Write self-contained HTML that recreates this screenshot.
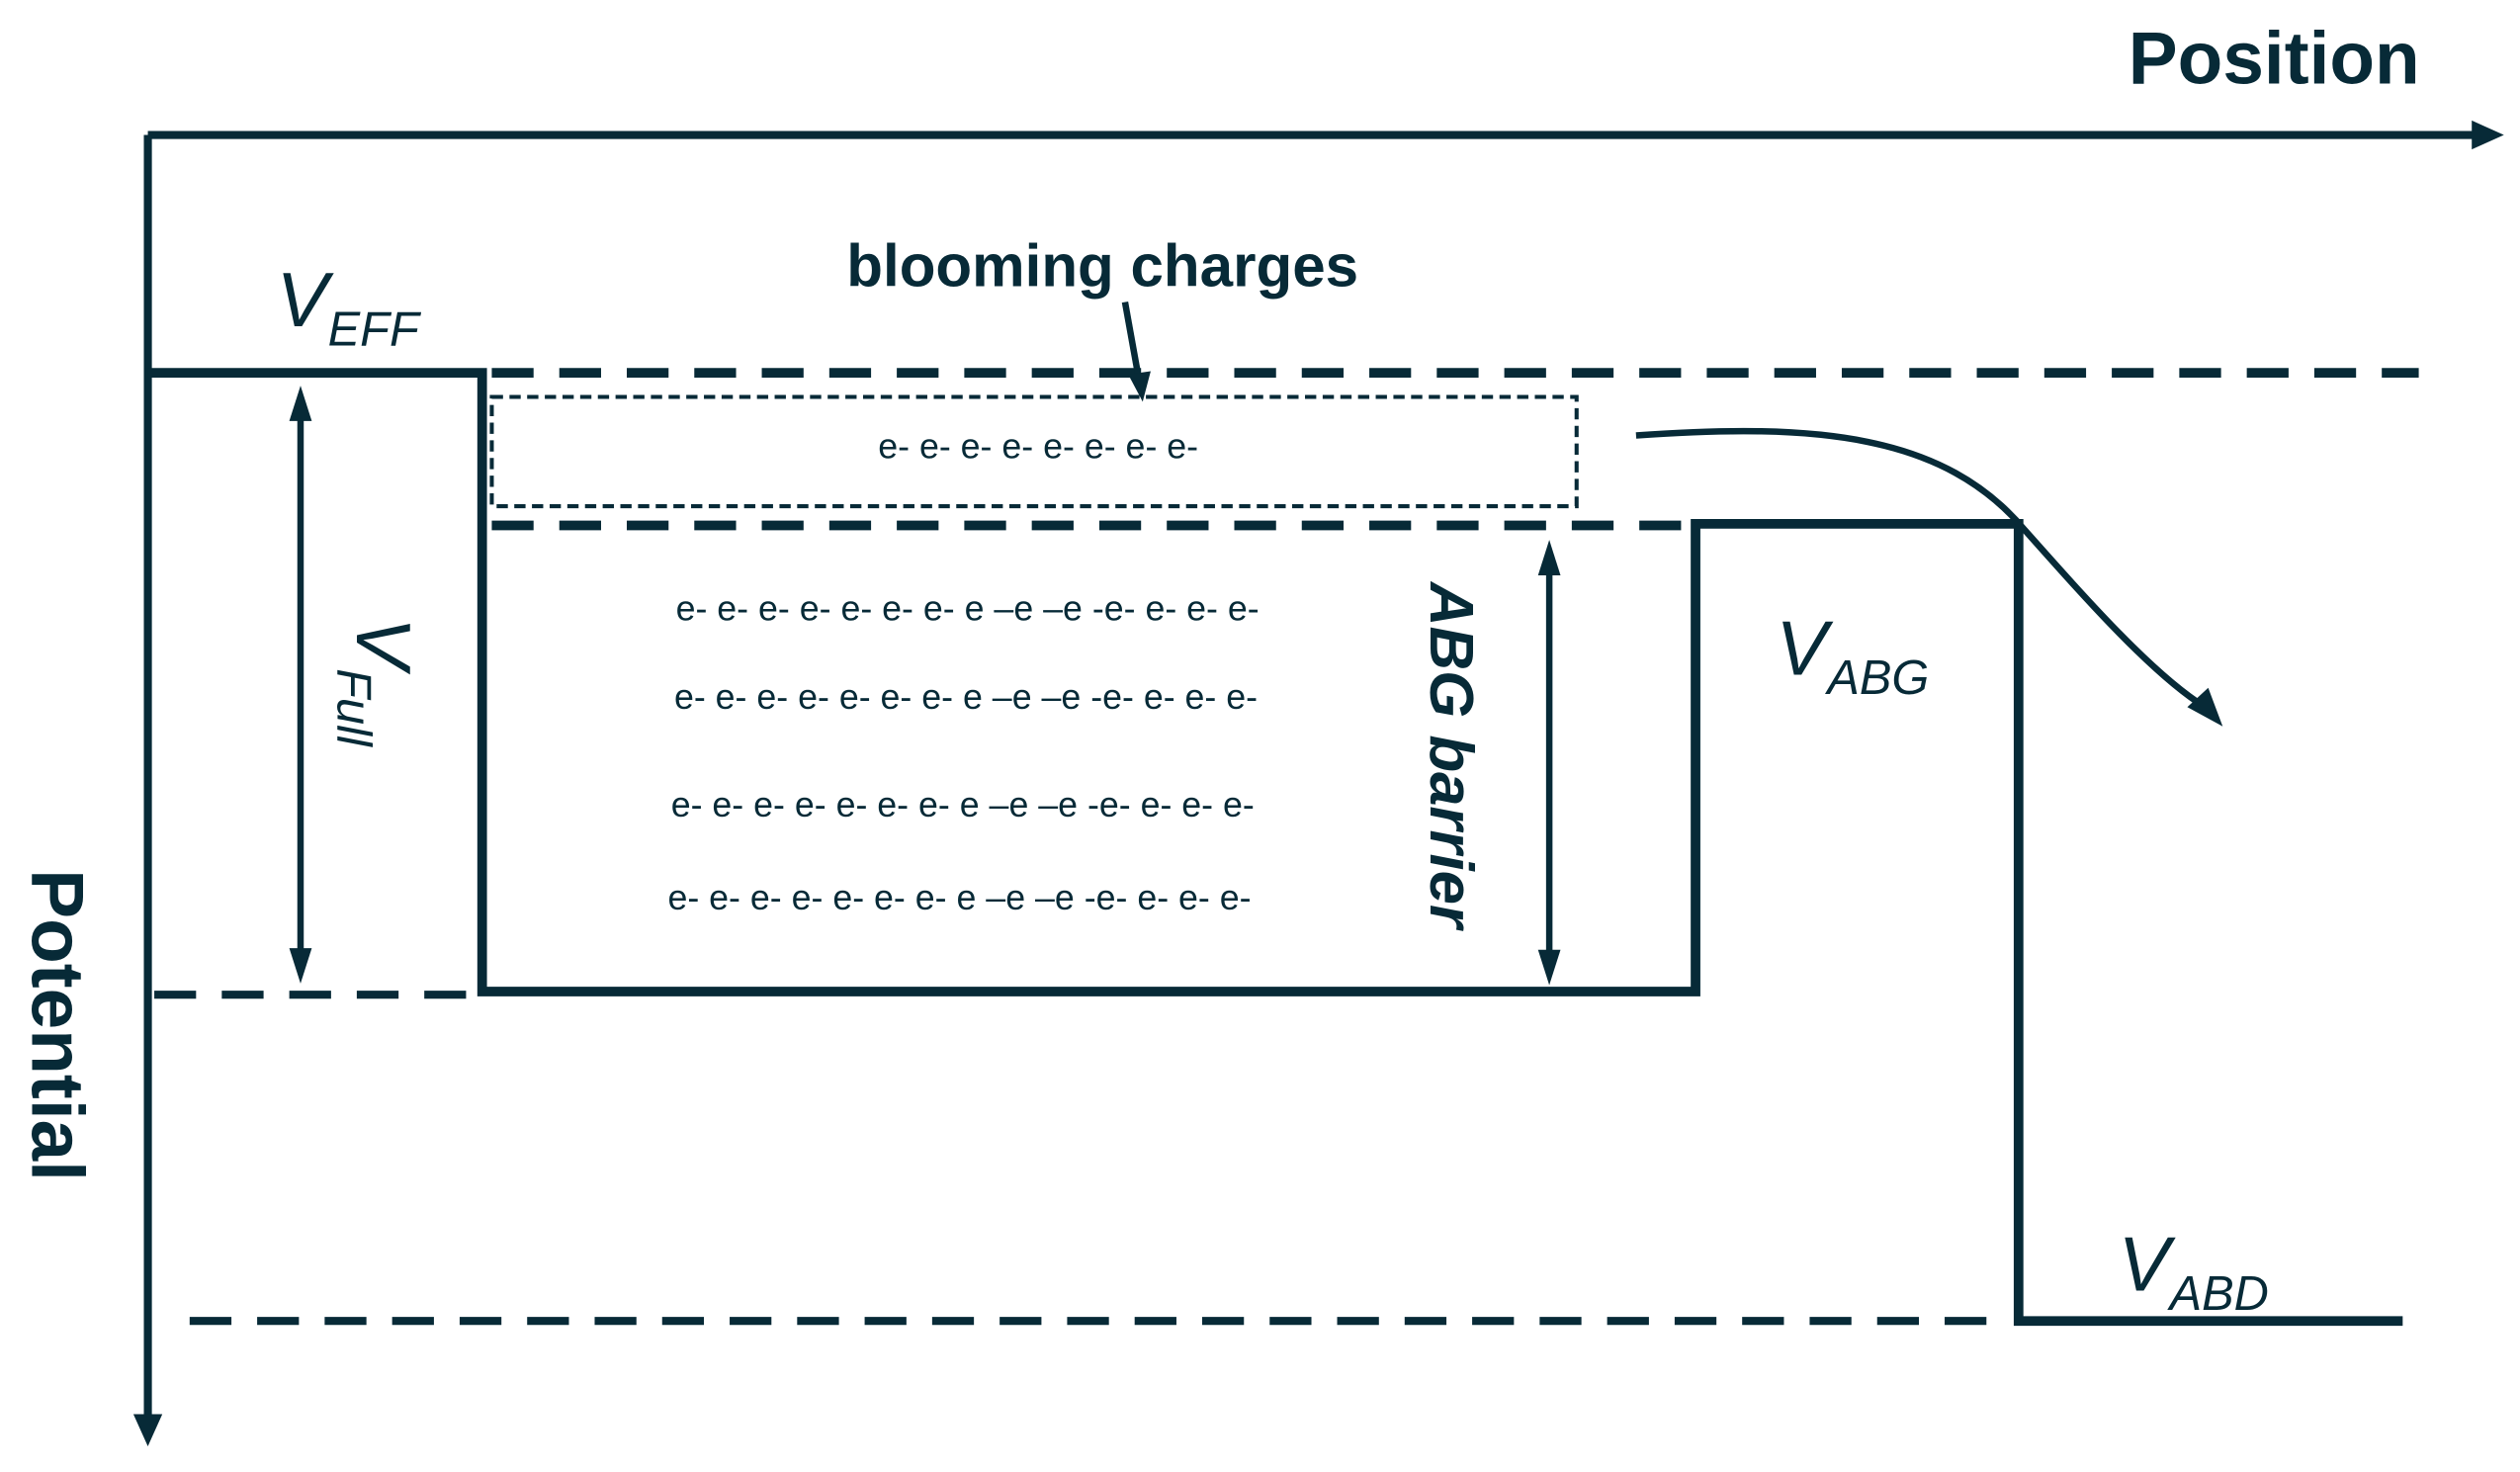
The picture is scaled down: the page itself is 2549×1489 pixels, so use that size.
<!DOCTYPE html>
<html><head><meta charset="utf-8"><style>
html,body{margin:0;padding:0;background:#fff;}
svg{display:block;}
text{font-family:"Liberation Sans",sans-serif;fill:#072a37;}
</style></head><body>
<svg width="2549" height="1489" viewBox="0 0 1568 916" preserveAspectRatio="none">
<g stroke="#072a37" fill="none" stroke-linecap="butt">
<!-- axes -->
<line x1="92" y1="84" x2="1545" y2="84" stroke-width="5"/>
<polygon points="1558,84 1538,75 1538,93" fill="#072a37" stroke="none"/>
<line x1="92" y1="84" x2="92" y2="885" stroke-width="5"/>
<polygon points="92,900 83,880 101,880" fill="#072a37" stroke="none"/>
<!-- potential profile -->
<polyline points="92,232 300,232 300,617 1055,617 1055,326 1256,326 1256,822 1495,822" stroke-width="6"/>
<!-- dashed levels -->
<line x1="306" y1="232" x2="1505" y2="232" stroke-width="6" stroke-dasharray="26,16"/>
<line x1="306" y1="327" x2="1050" y2="327" stroke-width="6" stroke-dasharray="26,16"/>
<line x1="96" y1="619" x2="300" y2="619" stroke-width="5" stroke-dasharray="26,16"/>
<line x1="118" y1="822" x2="1250" y2="822" stroke-width="5" stroke-dasharray="26,16"/>
<!-- dotted box -->
<rect x="306" y="247" width="675" height="68" stroke-width="2.5" stroke-dasharray="7,4"/>
<!-- blooming arrow -->
<line x1="700" y1="188" x2="709" y2="238" stroke-width="4"/>
<polygon points="711,250 702,233 716,231" fill="#072a37" stroke="none"/>
<!-- VFull double arrow -->
<line x1="187" y1="252" x2="187" y2="600" stroke-width="4"/>
<polygon points="187,240 180,262 194,262" fill="#072a37" stroke="none"/>
<polygon points="187,612 180,590 194,590" fill="#072a37" stroke="none"/>
<!-- ABG barrier double arrow -->
<line x1="964" y1="348" x2="964" y2="600" stroke-width="4"/>
<polygon points="964,336 957,358 971,358" fill="#072a37" stroke="none"/>
<polygon points="964,613 957,591 971,591" fill="#072a37" stroke="none"/>
<!-- curve -->
<path d="M1018,271 C1130,263 1210,270 1260,330 C1300,375 1340,420 1372,440" stroke-width="4"/>
<polygon points="1383,452 1361,440 1374,428" fill="#072a37" stroke="none"/>
</g>
<text x="1415" y="52" font-size="46" font-weight="bold" text-anchor="middle">Position</text>
<text x="686" y="178" font-size="37" font-weight="bold" text-anchor="middle">blooming charges</text>
<text x="172" y="203" font-size="48" font-style="italic">V<tspan font-size="30" dy="12">EFF</tspan></text>
<text x="1105" y="420" font-size="48" font-style="italic">V<tspan font-size="30" dy="12">ABG</tspan></text>
<text x="1318" y="803" font-size="48" font-style="italic">V<tspan font-size="30" dy="12">ABD</tspan></text>
<text transform="translate(222,384) rotate(90)" font-size="48" font-style="italic">V<tspan font-size="30" dy="12">Full</tspan></text>
<text transform="translate(890,470) rotate(90)" font-size="38" font-style="italic" font-weight="bold" text-anchor="middle">ABG barrier</text>
<text transform="translate(20,638) rotate(90)" font-size="46" font-weight="bold" text-anchor="middle">Potential</text>
<text x="646" y="285" font-size="22" text-anchor="middle">e- e- e- e- e- e- e- e-</text>
<text x="602" y="386" font-size="22" text-anchor="middle">e- e- e- e- e- e- e- e –e –e -e- e- e- e-</text>
<text x="601" y="441" font-size="22" text-anchor="middle">e- e- e- e- e- e- e- e –e –e -e- e- e- e-</text>
<text x="599" y="508" font-size="22" text-anchor="middle">e- e- e- e- e- e- e- e –e –e -e- e- e- e-</text>
<text x="597" y="566" font-size="22" text-anchor="middle">e- e- e- e- e- e- e- e –e –e -e- e- e- e-</text>
</svg>
</body></html>
